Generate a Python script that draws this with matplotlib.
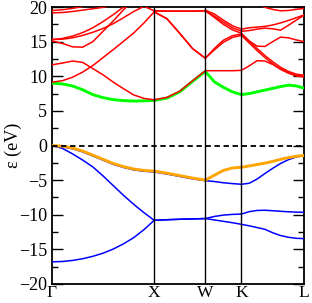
import numpy as np
import matplotlib
matplotlib.use('Agg')
import matplotlib.pyplot as plt

plt.rcParams['font.family'] = ['Liberation Serif', 'DejaVu Serif']
plt.rcParams['mathtext.fontset'] = 'stix'

# high-symmetry path (fcc): G-X, X-W, W-K, K-L segment lengths
segLengths = [1.0, 0.5, np.sqrt(2) / 4, np.sqrt(6) / 4]
segPoints = [11, 5, 5, 9]
kLabels = ['Γ', 'X', 'W', 'K', 'L']

kNodes = np.concatenate([[0], np.cumsum(segLengths)])
kPath = []
for i, n in enumerate(segPoints):
    seg = np.linspace(kNodes[i], kNodes[i + 1], n)
    kPath.extend(seg if i == 0 else seg[1:])
kPath = np.array(kPath)

nan = np.nan
# valence bands (eV), 27 samples along G-X-W-K-L
valence1 = [-16.8, -16.75, -16.6, -16.35, -16.0, -15.55, -14.95, -14.2, -13.3, -12.15, -10.8,
            -10.72, -10.65, -10.6, -10.55,
            -10.75, -10.95, -11.15, -11.38,
            -11.6, -11.85, -12.1, -12.6, -13.0, -13.25, -13.4, -13.45]
valence2 = [0.0, -0.4, -1.2, -2.1, -3.1, -4.4, -5.8, -7.2, -8.5, -9.7, -10.8,
            -10.72, -10.65, -10.6, -10.55,
            -10.25, -10.05, -9.95, -9.9,
            -9.55, -9.38, -9.35, -9.42, -9.5, -9.57, -9.62, -9.65]
valence3 = [0.0, -0.2, -0.47, -0.92, -1.52, -2.12, -2.72, -3.17, -3.52, -3.72, -3.82,
            -4.12, -4.47, -4.82, -5.08,
            -5.2, -5.38, -5.5, -5.6,
            -5.45, -4.85, -4.05, -3.3, -2.6, -2.05, -1.65, -1.45]
topValence = [0.0, -0.1, -0.35, -0.8, -1.4, -2.0, -2.6, -3.05, -3.4, -3.6, -3.7,
              -4.0, -4.35, -4.7, -5.0,
              -4.3, -3.6, -3.25, -3.15,
              -2.95, -2.75, -2.55, -2.3, -2.0, -1.75, -1.55, -1.45]
# lowest conduction band
bottomConduction = [9.0, 8.9, 8.6, 8.05, 7.35, 6.9, 6.62, 6.48, 6.42, 6.45, 6.5,
                    6.85, 7.75, 9.25, 10.7,
                    9.2, 8.4, 7.75, 7.35,
                    7.5, 7.75, 8.0, 8.25, 8.5, 8.72, 8.6, 8.3]
# higher conduction bands
conduction = [
    [11.65, 11.9, 12.2, 12.0, 11.1, 10.2, 9.15, 8.2, 7.3, 6.8, 6.6,
     6.95, 7.85, 9.35, 10.8,
     10.8, 10.8, 10.8, 10.85,
     11.5, 12.25, 12.2, 11.7, 11.05, 10.5, 10.05, 9.9],
    [9.15, 9.35, 9.85, 10.6, 11.55, 12.7, 13.85, 15.05, 16.25, 17.7, 19.3,
     18.3, 16.2, 14.0, 12.6,
     13.8, 14.9, 15.6, 15.9,
     14.8, 13.7, 12.7, 11.8, 11.0, 10.45, 10.1, 10.0],
    [nan, nan, nan, nan, nan, nan, nan, nan, nan, nan, 19.3,
     18.3, 16.2, 14.0, 12.6,
     14.0, 15.2, 15.85, 16.1,
     15.05, 14.0, 13.0, 12.1, 11.3, 10.7, 10.3, 10.15],
    [15.3, 15.35, 15.55, 15.9, 16.35, 16.9, 17.6, 18.45, 19.35, 20.1, 19.45,
     19.4, 19.4, 19.4, 19.45,
     18.5, 17.5, 16.7, 16.2,
     15.1, 14.35, 14.3, 15.0, 15.65, 15.55, 15.25, 15.0],
    [nan, nan, nan, nan, nan, nan, nan, nan, nan, nan, 19.45,
     19.4, 19.4, 19.4, 19.45,
     18.7, 17.8, 17.0, 16.5,
     16.6, 16.8, 16.95, 16.85, 16.65, 17.35, 18.1, 18.8],
    [nan, nan, nan, nan, nan, nan, nan, nan, nan, nan, nan,
     nan, nan, nan, 19.55,
     19.0, 18.1, 17.3, 16.8,
     17.0, 17.1, 17.2, 17.4, 17.7, 18.05, 18.45, 18.85],
    [nan, nan, nan, nan, nan, nan, nan, nan, nan, nan, nan,
     nan, nan, nan, nan,
     nan, nan, nan, 21.2,
     20.8, 20.4, 19.95, 19.65, 19.45, 19.5, 19.65, 19.8],
    [15.3, 15.45, 15.8, 16.3, 17.0, 17.9, 18.9, 20.0, 21.1, nan, nan,
     nan, nan, nan, nan, nan, nan, nan, nan, nan, nan, nan, nan, nan, nan, nan, nan],
    [15.1, 14.75, 14.25, 14.2, 15.0, 16.5, 18.0, 19.6, 21.0, nan, nan,
     nan, nan, nan, nan, nan, nan, nan, nan, nan, nan, nan, nan, nan, nan, nan, nan],
    [19.15, 19.2, 19.35, 19.55, 19.75, 19.95, 20.3, nan, nan, nan, nan,
     nan, nan, nan, nan, nan, nan, nan, nan, nan, nan, nan, nan, nan, nan, nan, nan],
    [19.5, 19.6, 19.8, 20.05, 20.5, nan, nan, nan, nan, nan, nan,
     nan, nan, nan, nan, nan, nan, nan, nan, nan, nan, nan, nan, nan, nan, nan, nan],
]

fig = plt.figure(figsize=(3.12, 3.03), dpi=100)
ax = fig.add_axes([52 / 312, 1 - 284 / 303, 252 / 312, 277 / 303])

for band in [valence1, valence2, valence3]:
    ax.plot(kPath, band, color='#0000ff', lw=1.1, zorder=3)
ax.plot(kPath, topValence, color='#ffa500', lw=2.1, zorder=4)
ax.plot(kPath, bottomConduction, color='#00ff00', lw=2.1, zorder=3)
for band in conduction:
    ax.plot(kPath, band, color='#ff0000', lw=1.1, zorder=4)

ax.axhline(0, color='black', lw=1.3, ls=(0, (3, 2)), zorder=5)
for k in kNodes[1:-1]:
    ax.axvline(k, color='black', lw=1.0, zorder=5)

ax.set_xlim(kNodes[0], kNodes[-1])
ax.set_ylim(-20, 20)
ax.set_xticks(kNodes)
ax.set_xticklabels(kLabels)
ax.set_yticks(np.arange(-20, 21, 5))
ax.set_yticks(np.arange(-20, 21, 2.5), minor=True)
ax.tick_params(axis='y', which='both', direction='in', left=True, right=True, labelsize=13, width=1)
ax.tick_params(axis='y', which='major', length=8)
ax.tick_params(axis='y', which='minor', length=4)
ax.tick_params(axis='x', length=0, labelsize=12.5, pad=0.5)
for s in ax.spines.values():
    s.set_linewidth(1.3)
ax.set_ylabel('ε (eV)', fontsize=13, labelpad=-2)

fig.savefig('out.png', dpi=100)
